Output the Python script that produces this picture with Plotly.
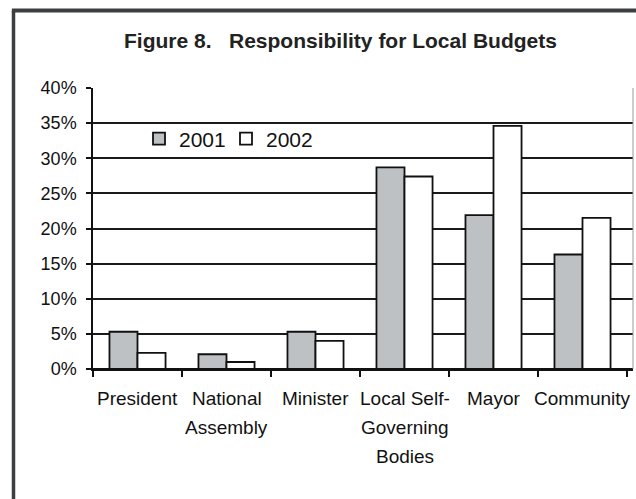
import plotly.graph_objects as go

# Survey shares (%) naming who is responsible for local budgets
categories = ["President", "National Assembly", "Minister",
              "Local Self-Governing Bodies", "Mayor", "Community"]
tick_labels = ["President", "National<br>Assembly", "Minister",
               "Local Self-<br>Governing<br>Bodies", "Mayor", "Community"]
values_2001 = [5.3, 2.1, 5.3, 28.7, 21.9, 16.3]
values_2002 = [2.3, 1.0, 4.0, 27.4, 34.6, 21.5]
y_ticks = [0, 5, 10, 15, 20, 25, 30, 35, 40]
y_tick_text = [f"{v}%" for v in y_ticks]

FONT = "Liberation Sans, Arial, sans-serif"
INK = "#111111"

fig = go.Figure()
fig.add_trace(go.Bar(name="2001", x=categories, y=values_2001,
                     marker=dict(color="#bdc1c3", line=dict(color=INK, width=1.8))))
fig.add_trace(go.Bar(name="2002", x=categories, y=values_2002,
                     marker=dict(color="#ffffff", line=dict(color=INK, width=1.8))))

# Multi-line category labels, one annotation per line for wider line spacing
annotations = []
for cat, lab in zip(categories, tick_labels):
    for j, line in enumerate(lab.split("<br>")):
        annotations.append(dict(
            x=cat, xref="x", y=0, yref="paper", yanchor="middle",
            yshift=-(29 + j * 29), text=line, showarrow=False,
            font=dict(family=FONT, size=19, color=INK)))

# Chart title
annotations.append(dict(
    x=(340 - 93) / 540, xref="paper", y=(369 - 40) / 281, yref="paper",
    xanchor="center", yanchor="middle", showarrow=False,
    text="<b>Figure 8.   Responsibility for Local Budgets</b>",
    font=dict(family=FONT, size=21, color="#222222")))

shapes = [
    # outer frame (left and top edges)
    dict(type="line", xref="paper", yref="paper",
         x0=(13.5 - 93) / 540, x1=(13.5 - 93) / 540,
         y0=-0.7, y1=(369 - 10.5) / 281,
         line=dict(color="#3b3f40", width=3.5)),
    dict(type="line", xref="paper", yref="paper",
         x0=(13.5 - 93) / 540 - 0.003, x1=1.2,
         y0=(369 - 10.5) / 281, y1=(369 - 10.5) / 281,
         line=dict(color="#3b3f40", width=4)),
    # plot-area right edge
    dict(type="line", xref="paper", yref="paper", x0=1, x1=1, y0=0, y1=1,
         line=dict(color="#9a9a9a", width=1)),
]

fig.update_layout(
    width=636, height=499,
    margin=dict(l=93, r=3, t=88, b=130),
    paper_bgcolor="white", plot_bgcolor="white",
    barmode="group", bargap=0.37, bargroupgap=0,
    font=dict(family=FONT, color=INK),
    showlegend=True,
    legend=dict(orientation="h", x=(139 - 93) / 540, xanchor="left",
                y=(369 - 139) / 281, yanchor="middle",
                entrywidth=42, entrywidthmode="pixels",
                bgcolor="rgba(0,0,0,0)",
                font=dict(family=FONT, size=21, color=INK)),
    annotations=annotations,
    shapes=shapes,
)

fig.update_xaxes(
    showticklabels=False, tickson="boundaries", ticks="outside",
    ticklen=6, tickwidth=1.5, tickcolor=INK,
    showline=True, linecolor=INK, linewidth=1.5, showgrid=False,
)
fig.update_yaxes(
    range=[0, 40], tickmode="array", tickvals=y_ticks, ticktext=y_tick_text,
    ticks="outside", ticklen=5, tickwidth=1.5, tickcolor=INK,
    ticklabelstandoff=6,
    tickfont=dict(family=FONT, size=18, color=INK),
    showline=True, linecolor=INK, linewidth=1.5,
    showgrid=True, gridcolor="#1a1a1a", gridwidth=1.5,
    zeroline=True, zerolinecolor=INK, zerolinewidth=1.5,
)

fig.write_html("out.html")
